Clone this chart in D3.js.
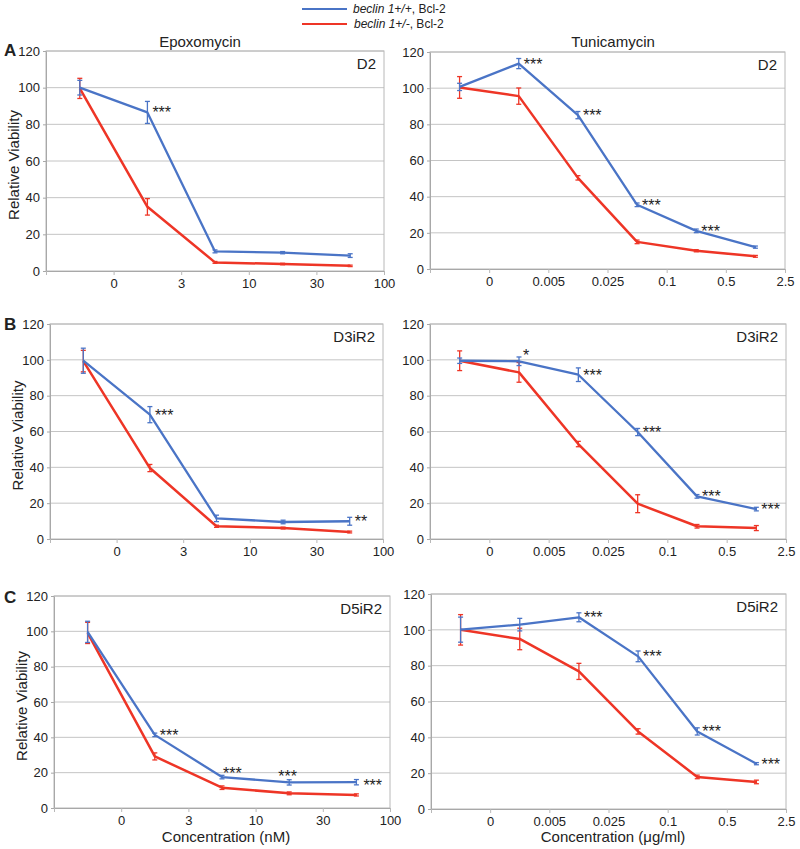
<!DOCTYPE html>
<html>
<head>
<meta charset="utf-8">
<script src="https://cdn.jsdelivr.net/npm/d3@7"></script>
<style>
  body { margin: 0; background: #fff; }
  text { font-family: "Liberation Sans", Arial, sans-serif; fill: #222; }
</style>
</head>
<body>
<script>
// x categories (tick labels sit on the band boundaries)
const epoxDoses = ["0", "3", "10", "30", "100"]
const tuniDoses = ["0", "0.005", "0.025", "0.1", "0.5", "2.5"]
const yTicks = [0, 20, 40, 60, 80, 100, 120]

// A - D2
const epoxD2Wt = [100, 86.5, 10.7, 10, 8.4]
const epoxD2WtErr = [4, 6, 0.8, 0.6, 1]
const epoxD2Het = [99.6, 35, 4.7, 3.8, 2.8]
const epoxD2HetErr = [5.5, 4.5, 0.5, 0.4, 0.4]
const epoxD2Stars = ["", "***", "", "", ""]

const tuniD2Wt = [100.7, 113.6, 85.1, 35.5, 21.1, 12.1]
const tuniD2WtErr = [2, 2.8, 2, 1, 1, 0.6]
const tuniD2Het = [100.4, 95.6, 50.4, 15, 10.1, 7]
const tuniD2HetErr = [6, 4.5, 1.2, 1, 0.6, 0.5]
const tuniD2Stars = ["", "***", "***", "***", "***", ""]

// B - D3iR2
const epoxD3Wt = [99.5, 69.4, 11.5, 9.5, 9.9]
const epoxD3WtErr = [7, 4.5, 1.8, 1, 2.2]
const epoxD3Het = [99.3, 39.6, 7.1, 6.1, 3.9]
const epoxD3HetErr = [6, 2, 0.6, 0.5, 0.5]
const epoxD3Stars = ["", "***", "", "", "**"]

const tuniD3Wt = [99.5, 99.2, 91.7, 59.7, 23.8, 16.7]
const tuniD3WtErr = [1.5, 2.4, 3.8, 2, 1, 1]
const tuniD3Het = [99.5, 93, 53, 19.7, 7.1, 6.1]
const tuniD3HetErr = [5.5, 5.5, 1.5, 5, 1, 1.4]
const tuniD3Stars = ["", "*", "***", "***", "***", "***"]

// C - D5iR2
const epoxD5Wt = [99.7, 41.4, 17.5, 14.5, 14.6]
const epoxD5WtErr = [6, 1, 1, 1.5, 1.5]
const epoxD5Het = [99.1, 29.2, 11.5, 8.3, 7.4]
const epoxD5HetErr = [6, 2, 1, 0.8, 0.6]
const epoxD5Stars = ["", "***", "***", "***", "***"]

const tuniD5Wt = [100.1, 102.9, 107, 85.2, 43.3, 25.3]
const tuniD5WtErr = [7, 3.5, 2.5, 3, 2, 0.6]
const tuniD5Het = [100, 94.9, 76.8, 43.3, 17.9, 15.1]
const tuniD5HetErr = [8.5, 6, 4.5, 1.5, 1, 1]
const tuniD5Stars = ["", "", "***", "***", "***", "***"]

const BLUE = "#4a74c6"
const RED = "#ee3526"

const svg = d3.select("body").append("svg")
    .attr("width", 800)
    .attr("height", 849)

// panels: plot box + data
const panels = [
    {x: 46, y: 51, w: 338, h: 220, doses: epoxDoses, wt: epoxD2Wt, wtErr: epoxD2WtErr, het: epoxD2Het, hetErr: epoxD2HetErr, stars: epoxD2Stars, tag: "D2", ylab: true},
    {x: 430, y: 52, w: 355, h: 217, doses: tuniDoses, wt: tuniD2Wt, wtErr: tuniD2WtErr, het: tuniD2Het, hetErr: tuniD2HetErr, stars: tuniD2Stars, tag: "D2"},
    {x: 50, y: 324, w: 333, h: 215, doses: epoxDoses, wt: epoxD3Wt, wtErr: epoxD3WtErr, het: epoxD3Het, hetErr: epoxD3HetErr, stars: epoxD3Stars, tag: "D3iR2", ylab: true},
    {x: 430, y: 324, w: 356, h: 215, doses: tuniDoses, wt: tuniD3Wt, wtErr: tuniD3WtErr, het: tuniD3Het, hetErr: tuniD3HetErr, stars: tuniD3Stars, tag: "D3iR2"},
    {x: 54, y: 596, w: 336, h: 212, doses: epoxDoses, wt: epoxD5Wt, wtErr: epoxD5WtErr, het: epoxD5Het, hetErr: epoxD5HetErr, stars: epoxD5Stars, tag: "D5iR2", ylab: true},
    {x: 431, y: 594, w: 355, h: 215, doses: tuniDoses, wt: tuniD5Wt, wtErr: tuniD5WtErr, het: tuniD5Het, hetErr: tuniD5HetErr, stars: tuniD5Stars, tag: "D5iR2"}
]

// small hand nudges for a few star labels (panel index -> point index -> [dx, dy])
const starNudge = {
    3: {1: [-1, -6]},
    4: {2: [-4, -4], 3: [-16, -6], 4: [2, 3]}
}

function drawPanel(p, pi) {
    const g = svg.append("g").attr("transform", `translate(${p.x},${p.y})`)
    const n = p.doses.length
    const x = d3.scaleLinear().domain([0, n]).range([0, p.w])
    const y = d3.scaleLinear().domain([0, 120]).range([p.h, 0])

    // gridlines
    g.append("g")
        .selectAll("line").data(yTicks.slice(1))
        .enter().append("line")
        .attr("x1", 0).attr("x2", p.w)
        .attr("y1", d => y(d)).attr("y2", d => y(d))
        .attr("stroke", "#c4c4c4").attr("stroke-width", 1)

    // plot border
    g.append("rect")
        .attr("width", p.w).attr("height", p.h)
        .attr("fill", "none").attr("stroke", "#b8b8b8")

    // y axis
    const yAxis = g.append("g")
        .call(d3.axisLeft(y).tickValues(yTicks).tickSizeInner(3).tickSizeOuter(0).tickPadding(3))
    yAxis.select(".domain").attr("stroke", "#a8a8a8")
    yAxis.selectAll(".tick line").attr("stroke", "#a8a8a8")
    yAxis.selectAll("text").attr("font-size", "13px").attr("fill", "#222")
        .attr("font-family", "Liberation Sans, Arial, sans-serif")

    // x axis, labels on band boundaries
    const xAxis = g.append("g")
        .attr("transform", `translate(0, ${p.h})`)
        .call(d3.axisBottom(x).tickValues(d3.range(0, n + 1)).tickSizeInner(4).tickSizeOuter(0).tickPadding(4)
            .tickFormat(i => i === 0 ? "" : p.doses[i - 1]))
    xAxis.select(".domain").attr("stroke", "#a8a8a8")
    xAxis.selectAll(".tick line").attr("stroke", "#b8b8b8")
    xAxis.selectAll("text").attr("font-size", "13px").attr("fill", "#222")
        .attr("font-family", "Liberation Sans, Arial, sans-serif")

    const cx = i => x(i + 0.5)
    const line = d3.line().x((d, i) => cx(i)).y(d => y(d))

    const series = [
        {vals: p.het, err: p.hetErr, color: RED, w: 2.5},
        {vals: p.wt, err: p.wtErr, color: BLUE, w: 2.3}
    ]
    series.forEach(s => {
        g.append("path").datum(s.vals)
            .attr("d", line)
            .attr("fill", "none").attr("stroke", s.color).attr("stroke-width", s.w)
            .attr("stroke-linejoin", "round")
        const eb = g.append("g").attr("stroke", s.color).attr("stroke-width", 1.3)
        s.vals.forEach((v, i) => {
            const e = s.err[i]
            eb.append("line").attr("x1", cx(i)).attr("x2", cx(i)).attr("y1", y(v - e)).attr("y2", y(v + e))
            eb.append("line").attr("x1", cx(i) - 2.5).attr("x2", cx(i) + 2.5).attr("y1", y(v - e)).attr("y2", y(v - e))
            eb.append("line").attr("x1", cx(i) - 2.5).attr("x2", cx(i) + 2.5).attr("y1", y(v + e)).attr("y2", y(v + e))
        })
    })

    // significance stars on the +/+ series
    p.stars.forEach((s, i) => {
        if (!s) return
        const nud = (starNudge[pi] && starNudge[pi][i]) || [0, 0]
        g.append("text")
            .attr("x", cx(i) + 5 + nud[0])
            .attr("y", y(p.wt[i]) + 6 + nud[1])
            .attr("font-size", "16px")
            .text(s)
    })

    // cell line tag
    g.append("text")
        .attr("x", p.w - 8).attr("y", 18)
        .attr("text-anchor", "end")
        .attr("font-size", "15px")
        .text(p.tag)

    if (p.ylab) {
        g.append("text")
            .attr("transform", `translate(-27, ${p.h / 2 + 4}) rotate(-90)`)
            .attr("text-anchor", "middle")
            .attr("font-size", "15px")
            .text("Relative Viability")
    }
}

panels.forEach(drawPanel)

// column titles
svg.append("text").attr("x", 200).attr("y", 47).attr("text-anchor", "middle")
    .attr("font-size", "15px").text("Epoxomycin")
svg.append("text").attr("x", 613).attr("y", 47).attr("text-anchor", "middle")
    .attr("font-size", "15px").text("Tunicamycin")

// row letters
const rowLetters = [["A", 56], ["B", 330], ["C", 603]]
svg.selectAll(".rowLetter").data(rowLetters).enter().append("text")
    .attr("x", 4).attr("y", d => d[1])
    .attr("font-size", "17px").attr("font-weight", "bold")
    .text(d => d[0])

// x titles
svg.append("text").attr("x", 226).attr("y", 842).attr("text-anchor", "middle")
    .attr("font-size", "15px").text("Concentration (nM)")
svg.append("text").attr("x", 613).attr("y", 842).attr("text-anchor", "middle")
    .attr("font-size", "15px").text("Concentration (μg/ml)")

// legend
const legendItems = [
    {gene: "beclin 1", geno: "+/+", rest: ", Bcl-2", color: BLUE},
    {gene: "beclin 1", geno: "+/-", rest: ", Bcl-2", color: RED}
]
const lg = svg.append("g")
legendItems.forEach((d, i) => {
    const ly = 9 + i * 15
    lg.append("line").attr("x1", 302).attr("x2", 347).attr("y1", ly).attr("y2", ly)
        .attr("stroke", d.color).attr("stroke-width", 2)
    const t = lg.append("text").attr("x", 353 + i).attr("y", ly + 4).attr("font-size", "12px")
    t.append("tspan").attr("font-style", "italic").text(d.gene + d.geno)
    t.append("tspan").text(d.rest)
})
</script>
</body>
</html>
